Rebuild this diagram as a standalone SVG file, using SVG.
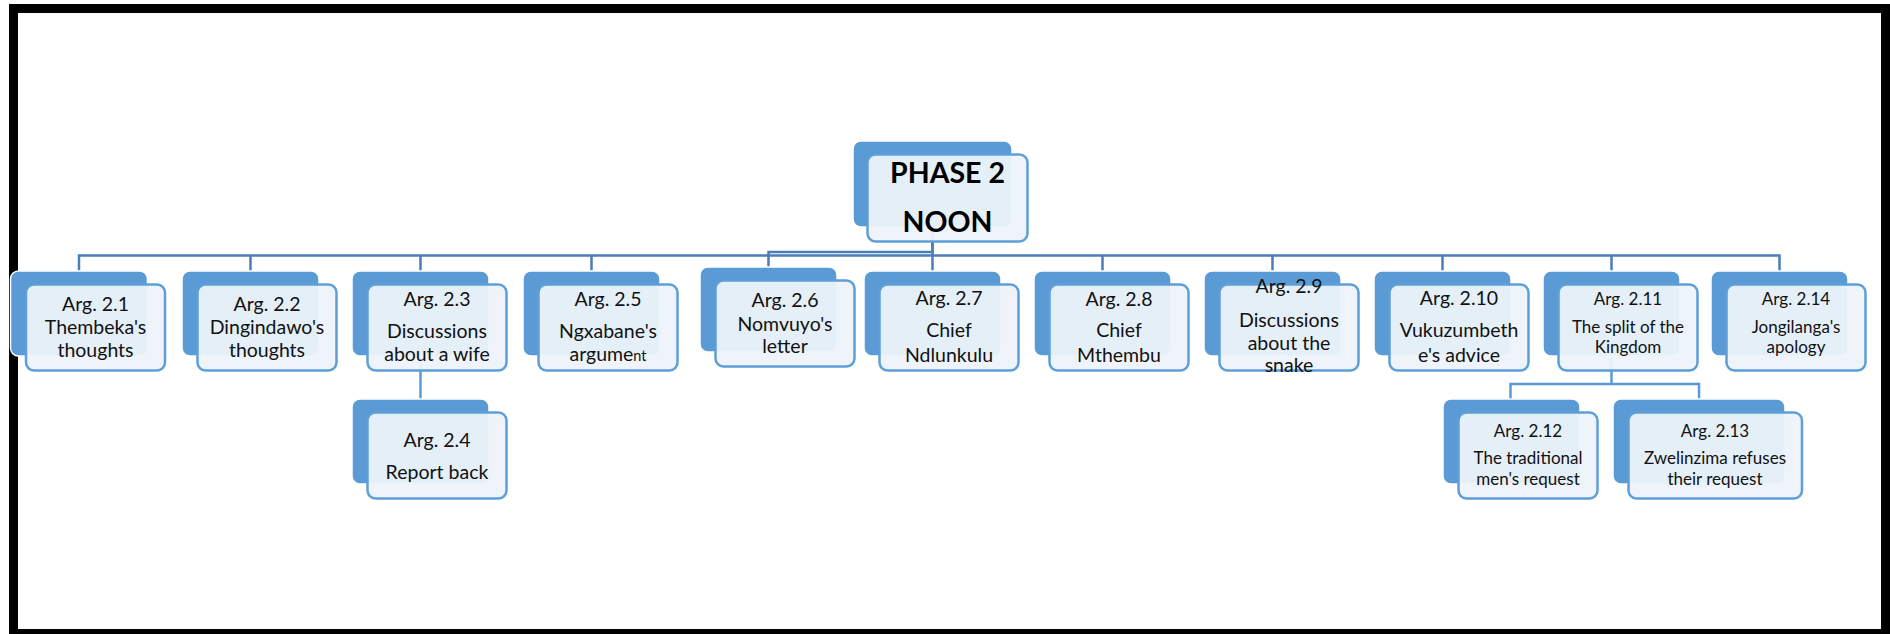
<svg xmlns="http://www.w3.org/2000/svg" width="1890" height="634" viewBox="0 0 1890 634">
<style>
.bk{fill:#5B9BD5;stroke:#ffffff;stroke-width:1.5}
.fr{fill:#EDF3FA;fill-opacity:0.95;stroke:#5E9FD8;stroke-width:2.5}
.t{font-family:Lato,"Liberation Sans",sans-serif;font-size:19.5px;fill:#111;text-anchor:middle}
.ts{font-family:Lato,"Liberation Sans",sans-serif;font-size:17px;fill:#111;text-anchor:middle}
.h{font-family:Lato,"Liberation Sans",sans-serif;font-size:28.5px;font-weight:bold;fill:#000;text-anchor:middle}
.cm{fill:none;stroke:#4A7EBB;stroke-width:2.5}
.cs{fill:none;stroke:#5B9BD5;stroke-width:2.5}
</style>
<rect x="0" y="0" width="1890" height="634" fill="#ffffff"/>
<rect x="13.5" y="8.5" width="1872" height="625" fill="none" stroke="#000" stroke-width="9"/>
<g id="connectors">
<path class="cm" d="M79,271V255.5H1779.5V271M250.5,255.5V271M420.5,255.5V271M591.5,255.5V271M1102.5,255.5V271M1272.5,255.5V271M1442.5,255.5V271M1611.5,255.5V271"/>
<path class="cm" d="M932.5,227V271"/>
<path class="cm" d="M932.5,227V252H768.5V267"/>
<path class="cs" d="M420.5,356V399"/>
<path class="cs" d="M1611.5,356V384M1510.5,399V384H1699V399"/>
</g>
<g id="phase2">
<rect class="bk" x="853" y="141" width="159" height="86" rx="8"/>
<rect class="fr" x="867.5" y="154.5" width="160" height="87" rx="8"/>
<text class="h" x="947.5" y="183">PHASE 2</text>
<text class="h" x="947.5" y="232">NOON</text>
</g>
<g id="arg2_1">
<rect class="bk" x="10.5" y="271" width="137" height="85" rx="8"/>
<rect class="fr" x="26" y="284.5" width="139" height="86" rx="8"/>
<text class="t" x="95.5" y="311">Arg. 2.1</text>
<text class="t" x="95.5" y="334">Thembeka's</text>
<text class="t" x="95.5" y="357">thoughts</text>
</g>
<g id="arg2_2">
<rect class="bk" x="182" y="271" width="137" height="85" rx="8"/>
<rect class="fr" x="197.5" y="284.5" width="139" height="86" rx="8"/>
<text class="t" x="267" y="311">Arg. 2.2</text>
<text class="t" x="267" y="334">Dingindawo's</text>
<text class="t" x="267" y="357">thoughts</text>
</g>
<g id="arg2_3">
<rect class="bk" x="352" y="271" width="137" height="85" rx="8"/>
<rect class="fr" x="367.5" y="284.5" width="139" height="86" rx="8"/>
<text class="t" x="437" y="306">Arg. 2.3</text>
<text class="t" x="437" y="338">Discussions</text>
<text class="t" x="437" y="361">about a wife</text>
</g>
<g id="arg2_4">
<rect class="bk" x="352" y="399" width="137" height="85" rx="8"/>
<rect class="fr" x="367.5" y="412.5" width="139" height="86" rx="8"/>
<text class="t" x="437" y="447">Arg. 2.4</text>
<text class="t" x="437" y="479">Report back</text>
</g>
<g id="arg2_5">
<rect class="bk" x="523" y="271" width="137" height="85" rx="8"/>
<rect class="fr" x="538.5" y="284.5" width="139" height="86" rx="8"/>
<text class="t" x="608" y="306">Arg. 2.5</text>
<text class="t" x="608" y="338">Ngxabane's</text>
<text class="t" x="608" y="361">argume<tspan font-size="14.5px">nt</tspan></text>
</g>
<g id="arg2_6">
<rect class="bk" x="700" y="267" width="137" height="85" rx="8"/>
<rect class="fr" x="715.5" y="280.5" width="139" height="86" rx="8"/>
<text class="t" x="785" y="307">Arg. 2.6</text>
<text class="t" x="785" y="331">Nomvuyo's</text>
<text class="t" x="785" y="353">letter</text>
</g>
<g id="arg2_7">
<rect class="bk" x="864" y="271" width="137" height="85" rx="8"/>
<rect class="fr" x="879.5" y="284.5" width="139" height="86" rx="8"/>
<text class="t" x="949" y="305">Arg. 2.7</text>
<text class="t" x="949" y="337">Chief</text>
<text class="t" x="949" y="362">Ndlunkulu</text>
</g>
<g id="arg2_8">
<rect class="bk" x="1034" y="271" width="137" height="85" rx="8"/>
<rect class="fr" x="1049.5" y="284.5" width="139" height="86" rx="8"/>
<text class="t" x="1119" y="306">Arg. 2.8</text>
<text class="t" x="1119" y="337">Chief</text>
<text class="t" x="1119" y="362">Mthembu</text>
</g>
<g id="arg2_9">
<rect class="bk" x="1204" y="271" width="137" height="85" rx="8"/>
<rect class="fr" x="1219.5" y="284.5" width="139" height="86" rx="8"/>
<text class="t" x="1289" y="293">Arg. 2.9</text>
<text class="t" x="1289" y="327">Discussions</text>
<text class="t" x="1289" y="350">about the</text>
<text class="t" x="1289" y="372">snake</text>
</g>
<g id="arg2_10">
<rect class="bk" x="1374" y="271" width="137" height="85" rx="8"/>
<rect class="fr" x="1389.5" y="284.5" width="139" height="86" rx="8"/>
<text class="t" x="1459" y="305">Arg. 2.10</text>
<text class="t" x="1459" y="337">Vukuzumbeth</text>
<text class="t" x="1459" y="362">e's advice</text>
</g>
<g id="arg2_11">
<rect class="bk" x="1543" y="271" width="137" height="85" rx="8"/>
<rect class="fr" x="1558.5" y="284.5" width="139" height="86" rx="8"/>
<text class="ts" x="1628" y="305">Arg. 2.11</text>
<text class="ts" x="1628" y="333">The split of the</text>
<text class="ts" x="1628" y="353">Kingdom</text>
</g>
<g id="arg2_12">
<rect class="bk" x="1443" y="399" width="137" height="85" rx="8"/>
<rect class="fr" x="1458.5" y="412.5" width="139" height="86" rx="8"/>
<text class="ts" x="1528" y="437">Arg. 2.12</text>
<text class="ts" x="1528" y="464">The traditional</text>
<text class="ts" x="1528" y="485">men's request</text>
</g>
<g id="arg2_13">
<rect class="bk" x="1613" y="399" width="172" height="85" rx="8"/>
<rect class="fr" x="1628.5" y="412.5" width="173.5" height="86" rx="8"/>
<text class="ts" x="1715" y="437">Arg. 2.13</text>
<text class="ts" x="1715" y="464">Zwelinzima refuses</text>
<text class="ts" x="1715" y="485">their request</text>
</g>
<g id="arg2_14">
<rect class="bk" x="1711" y="271" width="137" height="85" rx="8"/>
<rect class="fr" x="1726.5" y="284.5" width="139" height="86" rx="8"/>
<text class="ts" x="1796" y="305">Arg. 2.14</text>
<text class="ts" x="1796" y="333">Jongilanga's</text>
<text class="ts" x="1796" y="353">apology</text>
</g>
</svg>
